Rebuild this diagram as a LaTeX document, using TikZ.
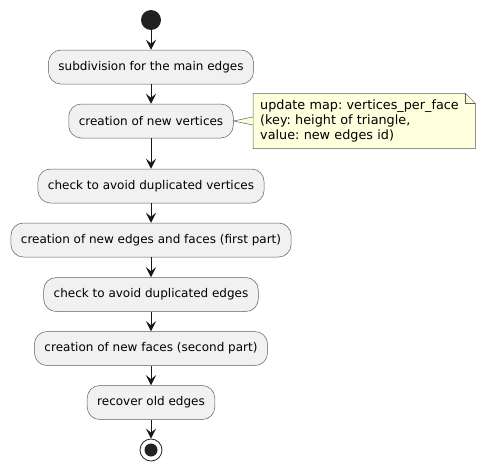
\documentclass[tikz,border=0pt]{standalone}
\usepackage{fontspec}
\setmainfont{DejaVu Sans}
\usetikzlibrary{arrows.meta, backgrounds}

\definecolor{umlline}{HTML}{181818}
\definecolor{umldot}{HTML}{222222}
\definecolor{actfill}{HTML}{F1F1F1}
\definecolor{notefill}{HTML}{FEFFDD}

\frenchspacing

\begin{document}
\begin{tikzpicture}[
    x=1pt, y=-1pt,
    >={Stealth[length=10pt, width=10pt, inset=4pt]},
    flow/.style={->, umlline, line width=1pt},
    act/.style={draw=umlline!70, line width=0.5pt, fill=actfill,
                rounded corners=12.5pt, minimum height=34pt,
                inner xsep=10pt, font=\fontsize{12}{14}\selectfont},
    notebox/.style={align=left, inner xsep=7pt, minimum height=55pt,
                    minimum width=222pt, text width=208pt,
                    font=\fontsize{12.8}{15}\selectfont},
]
\useasboundingbox (0,0) rectangle (486,471);

% ---- start / end ----
\node[circle, fill=umldot, minimum size=20pt, inner sep=0pt] (start) at (151,20) {};
\node[circle, draw=umldot, line width=0.8pt, fill=white, minimum size=22pt,
      inner sep=0pt] (stop) at (151,450) {};
\fill[umldot] (stop.center) circle (6.5pt);

% ---- activities ----
\node[act] (sub)   at (151,67)    {subdivision for the main edges};
\node[act] (newv)  at (151,121)   {creation of new vertices};
\node[act] (chkv)  at (151,186)   {check to avoid duplicated vertices};
\node[act] (newef) at (151,240)   {creation of new edges and faces (first part)};
\node[act] (chke)  at (151,294.5) {check to avoid duplicated edges};
\node[act] (newf)  at (151,348.5) {creation of new faces (second part)};
\node[act] (recov) at (151,402.5) {recover old edges};

% ---- flow ----
\draw[flow] (start) -- (sub);
\draw[flow] (sub)   -- (newv);
\draw[flow] (newv)  -- (chkv);
\draw[flow] (chkv)  -- (newef);
\draw[flow] (newef) -- (chke);
\draw[flow] (chke)  -- (newf);
\draw[flow] (newf)  -- (recov);
\draw[flow] (recov) -- (stop);

% ---- note ----
\node[notebox, anchor=west] (note) at (253,121)
  {update map: vertices\_per\_face\\(key: height of triangle,\\value: new edges id)};
\begin{scope}[on background layer]
  \draw[umlline!70, line width=0.5pt, fill=notefill]
    (note.south west) -- (note.north west) -- ([xshift=-10pt]note.north east)
    -- ([yshift=-10pt]note.north east) -- (note.south east) -- cycle;
  \draw[umlline!70, line width=0.5pt]
    ([xshift=-10pt]note.north east) -- ([xshift=-10pt,yshift=-10pt]note.north east)
    -- ([yshift=-10pt]note.north east);
\end{scope}
\filldraw[umlline!70, line width=0.5pt, fill=notefill]
  ([yshift=4pt]note.west) -- (newv.east) -- ([yshift=-4pt]note.west);

\end{tikzpicture}
\end{document}
